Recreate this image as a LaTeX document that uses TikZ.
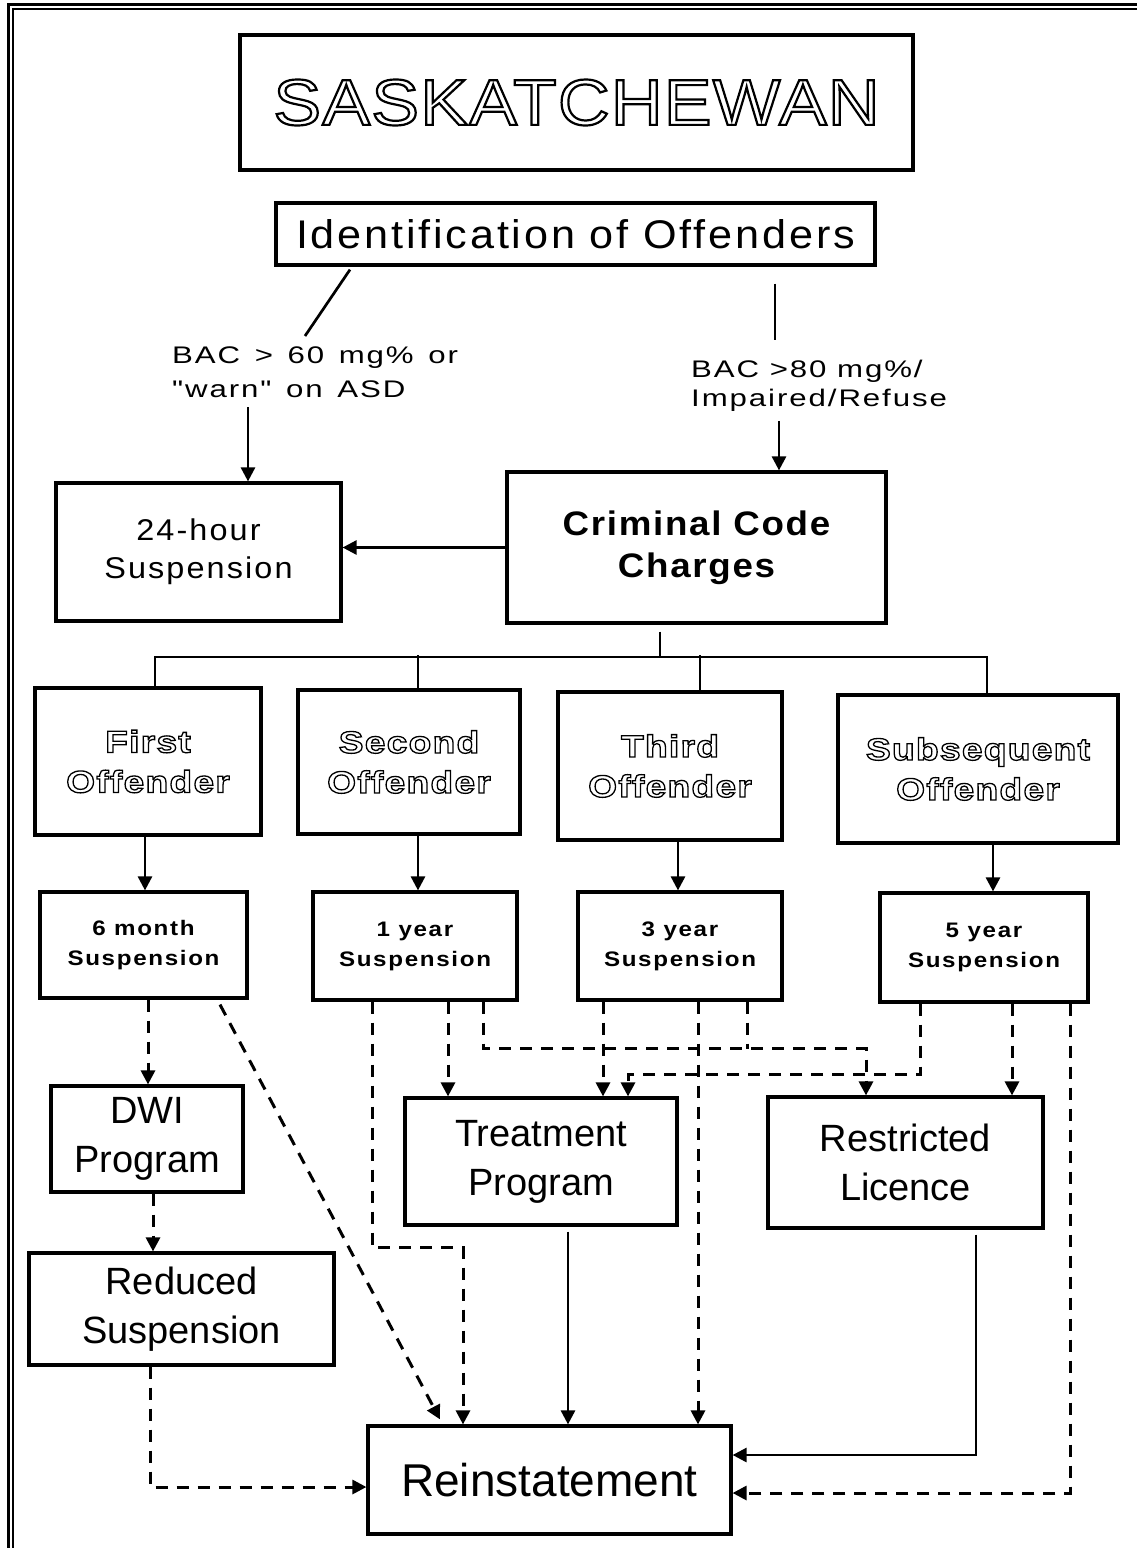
\documentclass[tikz,border=0pt]{standalone}
\usepackage{fontspec}
\setmainfont{Liberation Sans}
\newfontfamily\fTitle[FakeStretch=1.1,LetterSpace=2]{Liberation Sans}
\newfontfamily\fWide[FakeStretch=1.08,LetterSpace=7]{Liberation Sans}
\newfontfamily\fLabel[FakeStretch=1.3,LetterSpace=8]{Liberation Sans}
\newfontfamily\fBold[FakeStretch=1.08,LetterSpace=5]{Liberation Sans}
\newfontfamily\fOff[FakeStretch=1.2,LetterSpace=4]{Liberation Sans}
\newfontfamily\fSusp[FakeStretch=1.15,LetterSpace=8]{Liberation Sans}
\usetikzlibrary{arrows.meta}

% hollow (stroked only) lettering
\newcommand\outl[2][1.3]{\special{pdf:literal direct 1 Tr #1 w}#2\special{pdf:literal direct 0 Tr}}

\tikzset{
  box/.style={draw, line width=3.2pt, inner sep=0pt, align=center},
  conn/.style={line width=2.7pt},
  arr/.style={-{Triangle[length=14pt,width=14pt]}},
  dsh/.style={line width=3pt, dash pattern=on 12pt off 9pt},
  lbl/.style={inner sep=0pt, anchor=north west, align=left,
    font=\fLabel\fontsize{24}{#1}\selectfont},
}

\begin{document}
\begin{tikzpicture}[x=1pt,y=-1pt]
\useasboundingbox (0,0) rectangle (1137,1548);

% page frame
\draw[line width=3pt] (8,1548) -- (8,4) -- (1137,4);
\draw[line width=1.8pt] (13,1548) -- (13,9) -- (1137,9);

% heading
\node[box, minimum width=673pt, minimum height=135pt,
  font=\fTitle\fontsize{65}{70}\selectfont] (title) at (576.5,102.5)
  {\outl[2.2]{SASKATCHEWAN}};
\node[box, minimum width=599pt, minimum height=62pt,
  font=\fWide\fontsize{40}{44}\selectfont] (ident) at (575.5,234)
  {Identification of Offenders};

% screening criteria
\node[lbl=34] (lblL) at (172,347) {BAC \,>\, 60 \,mg\% \,or\\"warn" \,on \,ASD};
\node[lbl=29] (lblR) at (691,360) {BAC >80 mg\%/\\Impaired/Refuse};

% first decisions
\node[box, minimum width=285pt, minimum height=138pt,
  font=\fWide\fontsize{30}{38}\selectfont] (hour24) at (198.5,552)
  {24-hour\\Suspension};
\node[box, minimum width=379pt, minimum height=151pt,
  font=\fBold\bfseries\fontsize{34}{42}\selectfont] (ccc) at (696.5,547.5)
  {Criminal Code\\Charges};

% offender classes
\tikzset{off/.style={box, minimum height=#1,
  font=\fOff\bfseries\fontsize{31}{40}\selectfont}}
\node[off=147pt, minimum width=226pt] (first)  at (148,761.5) {\outl{First}\\\outl{Offender}};
\node[off=144pt, minimum width=222pt] (second) at (409,762)   {\outl{Second}\\\outl{Offender}};
\node[off=148pt, minimum width=224pt] (third)  at (670,766)   {\outl{Third}\\\outl{Offender}};
\node[off=148pt, minimum width=280pt] (subseq) at (978,769)   {\outl{Subsequent}\\\outl{Offender}};

% suspension periods
\tikzset{susp/.style={box, minimum height=#1,
  font=\fSusp\bfseries\fontsize{21}{30}\selectfont}}
\node[susp=106pt, minimum width=207pt] (s6) at (143.5,945)  {6 month\\Suspension};
\node[susp=108pt, minimum width=204pt] (s1) at (415,946)    {1 year\\Suspension};
\node[susp=108pt, minimum width=204pt] (s3) at (680,946)    {3 year\\Suspension};
\node[susp=109pt, minimum width=208pt] (s5) at (984,947.5)  {5 year\\Suspension};

% remedial programs
\tikzset{prog/.style={box, font=\fontsize{38}{49}\selectfont}}
\node[prog, minimum width=192pt, minimum height=106pt] (dwi)     at (147,1139)    {DWI\\Program};
\node[prog, minimum width=305pt, minimum height=112pt] (reduced) at (181.5,1309)  {Reduced\\Suspension};
\node[prog, minimum width=272pt, minimum height=127pt] (treat)   at (541,1161.5)  {Treatment\\Program};
\node[prog, minimum width=275pt, minimum height=131pt] (restr)   at (905.5,1162.5){Restricted\\Licence};
\node[box, minimum width=363pt, minimum height=108pt,
  font=\fontsize{46}{50}\selectfont] (reinst) at (549.5,1480) {Reinstatement};

% --- helper points on the criteria labels ---
\path (lblL.north west) ++(133,-11) coordinate (dL);
\path (lblR.north west) ++(84,-20)  coordinate (dR);
\coordinate (aL) at ([xshift=49.5pt]hour24.north);
\coordinate (aR) at ([xshift=82.5pt]ccc.north);
\path (aL |- lblL.south) coordinate (aL0);
\path (aR |- lblR.south) coordinate (aR0);

% --- solid connectors ---
\draw[conn] ([xshift=-225.5pt,yshift=-3pt]ident.south) -- (dL);
\draw[conn] ([xshift=199.5pt,yshift=-17pt]ident.south) -- (dR);
\draw[conn,arr] ([yshift=-9pt]aL0) -- (aL);
\draw[conn,arr] ([yshift=-9pt]aR0) -- (aR);
\draw[conn,arr] (ccc.west) -- (ccc.west -| hour24.east);

\coordinate (bus) at (660,657);
\draw[conn] ([xshift=-36.5pt,yshift=-7pt]ccc.south) -- (bus);
\draw[conn] ([xshift=7pt]first.north) |- (bus) -| ([xshift=9pt]subseq.north);
\draw[conn] ([xshift=9pt]second.north) -- ++(0,-33);
\draw[conn] ([xshift=30pt]third.north) -- ++(0,-35);

\draw[conn,arr] ([xshift=-3pt]first.south)  -- ([xshift=1.5pt]s6.north);
\draw[conn,arr] ([xshift=9pt]second.south)  -- ([xshift=3pt]s1.north);
\draw[conn,arr] ([xshift=8pt]third.south)   -- ([xshift=-2pt]s3.north);
\draw[conn,arr] ([xshift=15pt]subseq.south) -- ([xshift=9pt]s5.north);

\draw[conn,arr] ([xshift=27pt,yshift=-5pt]treat.south) -- ([xshift=18.5pt]reinst.north);
\draw[conn,arr] ([xshift=70.5pt,yshift=-5pt]restr.south) |- ([yshift=25pt]reinst.east);

% --- dashed connectors ---
\draw[dsh,arr] ([xshift=4.5pt]s6.south) -- ([xshift=1pt]dwi.north);
\draw[dsh,arr] ([xshift=6pt]dwi.south) -- ([xshift=-28.5pt]reduced.north);
\draw[dsh,arr] ([xshift=76.5pt,yshift=-5pt]s6.south) -- ([xshift=-109.5pt,yshift=5pt]reinst.north);
\draw[dsh,arr] ([xshift=-31.5pt]reduced.south) |- ([yshift=-7pt]reinst.west);

\draw[dsh,arr] ([xshift=-43pt]s1.south) -- ++(0,246) -| ([xshift=-86.5pt]reinst.north);
\draw[dsh,arr] ([xshift=33pt]s1.south) -- ([xshift=-93pt]treat.north);
\draw[dsh,arr] ([xshift=68pt]s1.south) -- ++(0,47) -| ([xshift=-39.5pt]restr.north);

\draw[dsh,arr] ([xshift=-77pt]s3.south) -- ([xshift=62pt]treat.north);
\draw[dsh,arr] ([xshift=18pt]s3.south) -- ([xshift=148.5pt]reinst.north);
\draw[dsh] ([xshift=67pt]s3.south) -- ++(0,47);

\draw[dsh,arr] ([xshift=-64pt]s5.south) -- ++(0,71) -| ([xshift=87pt]treat.north);
\draw[dsh,arr] ([xshift=28pt]s5.south) -- ([xshift=106.5pt]restr.north);
\draw[dsh,arr] ([xshift=86pt]s5.south) |- ([yshift=-13pt]reinst.east);
\end{tikzpicture}
\end{document}
